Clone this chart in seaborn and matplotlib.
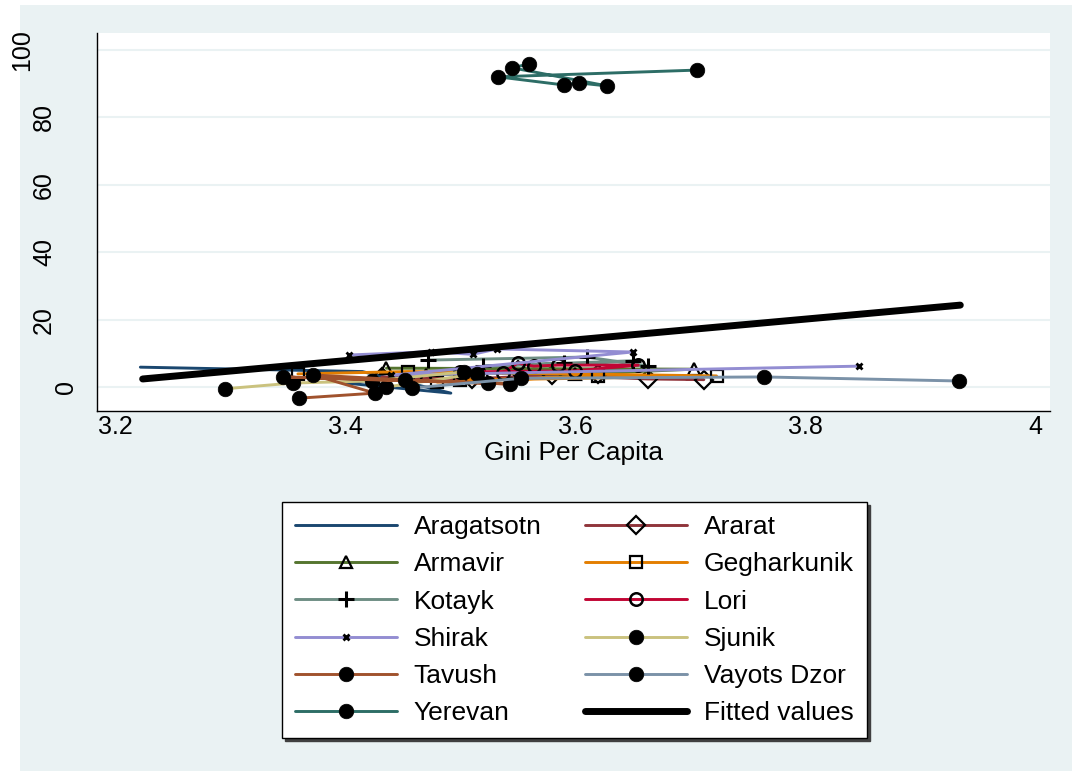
import numpy as np
import pandas as pd
import matplotlib
matplotlib.use("Agg")
import matplotlib.pyplot as plt
from matplotlib.patches import Rectangle
import matplotlib.transforms as mtransforms
import seaborn as sns

sns.set_theme(style="white")
plt.rcParams["font.family"] = ["Liberation Sans", "DejaVu Sans"]
plt.rcParams["text.color"] = "black"
plt.rcParams["axes.labelcolor"] = "black"

# ---------------- data ----------------
aragatsotn_x = [3.222, 3.415, 3.492, 3.400, 3.560]
aragatsotn_y = [5.9, 4.6, -1.8, 1.2, 7.3]

ararat_x = [3.432, 3.510, 3.580, 3.663, 3.712, 3.620, 3.550]
ararat_y = [3.0, 2.4, 3.6, 2.4, 2.2, 4.0, 5.0]

armavir_x = [3.436, 3.703, 3.600, 3.520, 3.470]
armavir_y = [5.6, 5.3, 3.8, 4.2, 3.5]

gegharkunik_x = [3.359, 3.455, 3.723, 3.500, 3.620, 3.480]
gegharkunik_y = [3.9, 4.6, 3.3, 2.0, 3.2, 1.5]

kotayk_x = [3.472, 3.610, 3.663, 3.590, 3.520, 3.650]
kotayk_y = [8.0, 8.9, 6.3, 7.0, 6.2, 7.8]

lori_x = [3.537, 3.550, 3.564, 3.585, 3.655, 3.600, 3.500]
lori_y = [4.2, 7.1, 6.2, 6.5, 6.5, 4.8, 4.5]

shirak_x = [3.403, 3.475, 3.511, 3.532, 3.650, 3.440, 3.847]
shirak_y = [9.5, 10.5, 9.7, 11.3, 10.4, 3.5, 6.2]

sjunik_x = [3.296, 3.355, 3.423, 3.503, 3.515, 3.436]
sjunik_y = [-0.5, 1.2, 1.8, 4.5, 4.0, 0.0]

tavush_x = [3.360, 3.426, 3.372, 3.452, 3.543, 3.346, 3.524]
tavush_y = [-3.3, -1.8, 3.6, 2.1, 0.9, 3.0, 1.3]

vayots_x = [3.458, 3.553, 3.764, 3.934]
vayots_y = [-0.3, 2.6, 3.0, 1.8]

yerevan_x = [3.706, 3.533, 3.590, 3.603, 3.628, 3.545, 3.560]
yerevan_y = [94.0, 92.0, 89.6, 90.2, 89.3, 94.7, 95.8]

fitted_x = [3.224, 3.935]
fitted_y = [2.4, 24.3]

regions = ["Aragatsotn", "Ararat", "Armavir", "Gegharkunik", "Kotayk", "Lori",
           "Shirak", "Sjunik", "Tavush", "Vayots Dzor", "Yerevan"]
xs = [aragatsotn_x, ararat_x, armavir_x, gegharkunik_x, kotayk_x, lori_x,
      shirak_x, sjunik_x, tavush_x, vayots_x, yerevan_x]
ys = [aragatsotn_y, ararat_y, armavir_y, gegharkunik_y, kotayk_y, lori_y,
      shirak_y, sjunik_y, tavush_y, vayots_y, yerevan_y]

x_ticks = [3.2, 3.4, 3.6, 3.8, 4.0]
x_tick_labels = ["3.2", "3.4", "3.6", "3.8", "4"]
y_ticks = [0, 20, 40, 60, 80, 100]
y_tick_labels = ["0", "20", "40", "60", "80", "100"]

# ---------------- styles ----------------
colors = ["#1A476F", "#90353B", "#55752F", "#E37E00", "#6E8E84", "#C10534",
          "#938DD2", "#CAC27E", "#A0522D", "#7B92A8", "#2D6D66"]
mstyle = [
    dict(marker=None),
    dict(marker="D", markersize=9, markerfacecolor="none", markeredgecolor="black", markeredgewidth=1.6),
    dict(marker="^", markersize=9, markerfacecolor="none", markeredgecolor="black", markeredgewidth=1.6),
    dict(marker="s", markersize=8.5, markerfacecolor="none", markeredgecolor="black", markeredgewidth=1.6),
    dict(marker="+", markersize=11, markeredgecolor="black", markeredgewidth=2.2),
    dict(marker="o", markersize=9, markerfacecolor="none", markeredgecolor="black", markeredgewidth=1.8),
    dict(marker="x", markersize=5, markeredgecolor="black", markeredgewidth=2.0),
    dict(marker="o", markersize=10.5, markerfacecolor="black", markeredgecolor="black", markeredgewidth=0.5),
    dict(marker="o", markersize=10.5, markerfacecolor="black", markeredgecolor="black", markeredgewidth=0.5),
    dict(marker="o", markersize=10.5, markerfacecolor="black", markeredgecolor="black", markeredgewidth=0.5),
    dict(marker="o", markersize=10.5, markerfacecolor="black", markeredgecolor="black", markeredgewidth=0.5),
]

W, H = 1072, 771
fig = plt.figure(figsize=(W / 100, H / 100), dpi=100, facecolor="white")
fig.patches.append(Rectangle((20 / W, 0), 1 - 20 / W, 1 - 5 / H, transform=fig.transFigure,
                             facecolor="#EAF2F3", edgecolor="none", zorder=-10))

ax_l, ax_r, ax_t, ax_b = 97, 1050, 33, 411
ax = fig.add_axes([ax_l / W, 1 - ax_b / H, (ax_r - ax_l) / W, (ax_b - ax_t) / H])
ax.set_facecolor("white")

for name, x, y, c, ms in zip(regions, xs, ys, colors, mstyle):
    df = pd.DataFrame({"gini": x, "val": y})
    sns.lineplot(data=df, x="gini", y="val", sort=False, estimator=None, color=c,
                 linewidth=2.1, ax=ax, label=name, **ms)

fdf = pd.DataFrame({"gini": fitted_x, "val": fitted_y})
sns.lineplot(data=fdf, x="gini", y="val", sort=False, estimator=None, color="black",
             linewidth=5, ax=ax, label="Fitted values")

ax.set_xlim(3.1843, 4.013)
ax.set_ylim(-7.1, 105.0)
ax.set_xticks(x_ticks)
ax.set_xticklabels(x_tick_labels)
ax.set_yticks(y_ticks)
ax.set_yticklabels([])
# rotated y tick labels, placed like the reference
ytrans = mtransforms.blended_transform_factory(fig.transFigure, ax.transData)
label_x = {"100": 22, "80": 44, "60": 44, "40": 44, "20": 44, "0": 66}
for v, s in zip(y_ticks, y_tick_labels):
    ax.text(label_x[s] / W, v, s, rotation=90, ha="center", va="center",
            fontsize=18, color="black", transform=ytrans, clip_on=False)

ax.yaxis.grid(True, color="#EAF2F3", linewidth=1.5)
ax.xaxis.grid(False)
ax.set_axisbelow(True)
for s in ["top", "right"]:
    ax.spines[s].set_visible(False)
for s in ["left", "bottom"]:
    ax.spines[s].set_color("black")
    ax.spines[s].set_linewidth(1.0)
ax.tick_params(axis="both", direction="out", length=6.5, width=1.0, color="black",
               labelsize=18, labelcolor="black")
ax.tick_params(axis="x", length=3, pad=0)
ax.set_xlabel("Gini Per Capita", fontsize=19, color="black", labelpad=1.5)
ax.set_ylabel("")

handles, labels = ax.get_legend_handles_labels()
order = ["Aragatsotn", "Armavir", "Kotayk", "Shirak", "Tavush", "Yerevan",
         "Ararat", "Gegharkunik", "Lori", "Sjunik", "Vayots Dzor", "Fitted values"]
hmap = dict(zip(labels, handles))
leg = ax.legend([hmap[k] for k in order], order, ncol=2, loc="upper center",
                bbox_to_anchor=(574.5 / W, 1 - 502 / H), bbox_transform=fig.transFigure,
                borderaxespad=0, fontsize=19, frameon=True, fancybox=False, edgecolor="black",
                handlelength=3.85, handletextpad=0.65, columnspacing=1.65,
                labelspacing=0.5, borderpad=0.5, numpoints=1,
                shadow={"color": "#404040", "alpha": 1.0})
leg.get_frame().set_linewidth(1.0)
leg.get_frame().set_facecolor("white")
for t in leg.get_texts():
    t.set_color("black")

fig.savefig("out.png", dpi=100, facecolor="white")
